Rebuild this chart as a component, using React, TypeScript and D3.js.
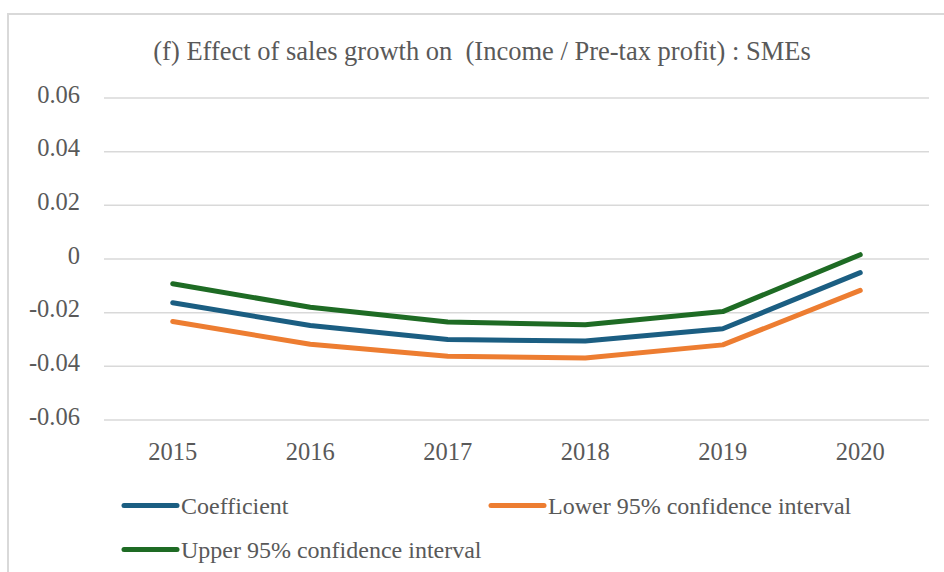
import React from "react";
import * as d3 from "d3";

const years = ["2015", "2016", "2017", "2018", "2019", "2020"];
const coefficient = [-0.0163, -0.0248, -0.0300, -0.0306, -0.0260, -0.0051];
const lower95 = [-0.0233, -0.0318, -0.0362, -0.0369, -0.0320, -0.0117];
const upper95 = [-0.0092, -0.0180, -0.0235, -0.0245, -0.0196, 0.0016];
const yTicks = [0.06, 0.04, 0.02, 0, -0.02, -0.04, -0.06];
const yTickLabels = ["0.06", "0.04", "0.02", "0", "-0.02", "-0.04", "-0.06"];
const title = "(f) Effect of sales growth on  (Income / Pre-tax profit) : SMEs";

const seriesNames = ["Coefficient", "Lower 95% confidence interval", "Upper 95% confidence interval"];
const seriesColors = ["#1B5E82", "#ED7D31", "#1E6B24"];

const W = 944;
const H = 572;
const textStyle: React.CSSProperties = {
  fontFamily: "Liberation Serif",
  whiteSpace: "pre",
};
const textColor = "#595959";

export default function App() {
  const x = d3.scaleBand<string>().domain(years).range([104, 929]);
  const y = d3.scaleLinear().domain([-0.06, 0.06]).range([420, 98]);
  const line = d3
    .line<number>()
    .x((_, i) => (x(years[i]) as number) + x.bandwidth() / 2)
    .y((d) => y(d));
  const series = [coefficient, lower95, upper95];

  const legendItems = [
    { x: 124, y: 505.5 },
    { x: 491, y: 505.5 },
    { x: 124, y: 549.5 },
  ];

  return (
    <svg
      width={W}
      height={H}
      style={{ position: "absolute", left: 0, top: 0, background: "#fff" }}
    >
      <rect x={0} y={0} width={W} height={H} fill="#fff" />
      <path d={`M8,${H + 5} L8,14 L${W + 5},14`} fill="none" stroke="#d9d9d9" strokeWidth={2} />
      <text x={482} y={59.5} textAnchor="middle" fontSize={26.5} fill={textColor} style={textStyle} xmlSpace="preserve">
        {title}
      </text>
      {yTicks.map((t, i) => (
        <g key={t}>
          <line x1={104} x2={929} y1={y(t)} y2={y(t)} stroke="#d9d9d9" strokeWidth={1.5} />
          <text x={80} y={y(t) + 4.5} textAnchor="end" fontSize={24.5} fill={textColor} style={textStyle}>
            {yTickLabels[i]}
          </text>
        </g>
      ))}
      {years.map((yr) => (
        <text
          key={yr}
          x={(x(yr) as number) + x.bandwidth() / 2}
          y={460}
          textAnchor="middle"
          fontSize={24.5}
          fill={textColor}
          style={textStyle}
        >
          {yr}
        </text>
      ))}
      {[2, 0, 1].map((i) => (
        <path
          key={i}
          d={line(series[i]) as string}
          fill="none"
          stroke={seriesColors[i]}
          strokeWidth={5}
          strokeLinecap="round"
          strokeLinejoin="round"
        />
      ))}
      {seriesNames.map((name, i) => (
        <g key={name}>
          <line
            x1={legendItems[i].x}
            x2={legendItems[i].x + 53}
            y1={legendItems[i].y}
            y2={legendItems[i].y}
            stroke={seriesColors[i]}
            strokeWidth={5}
            strokeLinecap="round"
          />
          <text
            x={legendItems[i].x + 57}
            y={legendItems[i].y + 8}
            fontSize={24}
            fill={textColor}
            style={textStyle}
          >
            {name}
          </text>
        </g>
      ))}
    </svg>
  );
}
